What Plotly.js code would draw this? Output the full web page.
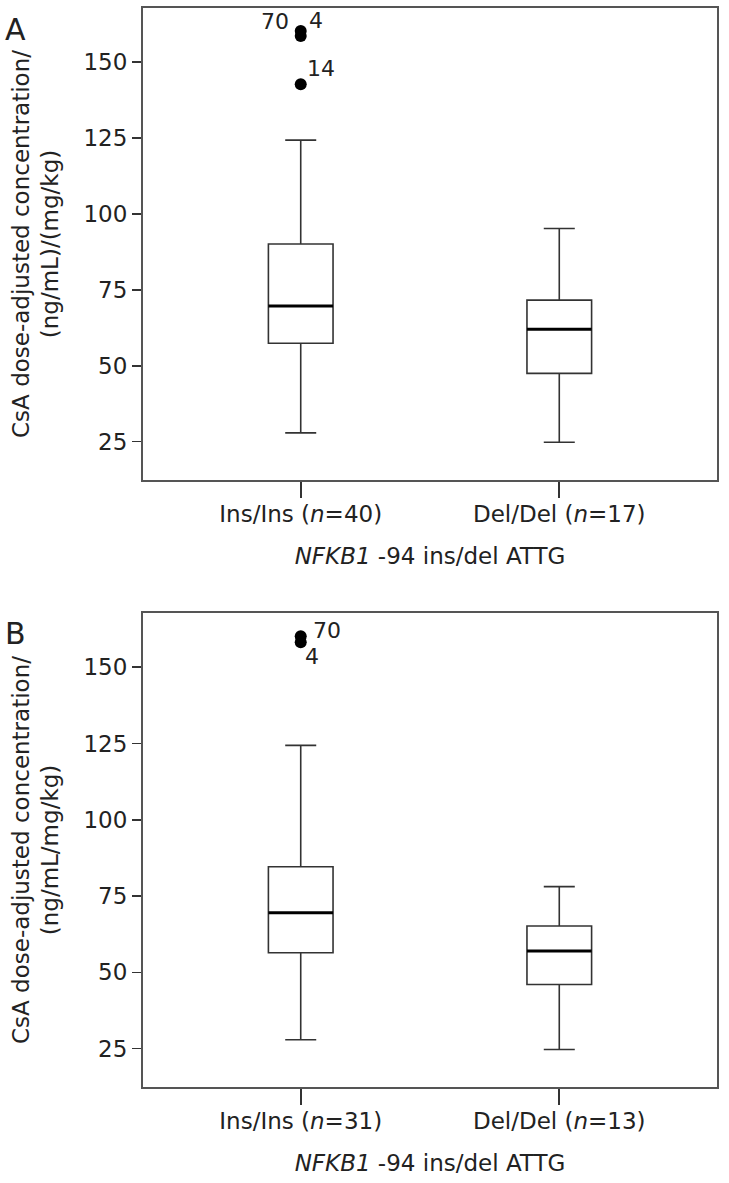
<!DOCTYPE html>
<html>
<head>
<meta charset="utf-8">
<script src="https://cdn.plot.ly/plotly-3.0.1.min.js"></script>
<style>html,body{margin:0;padding:0;background:#fff;}#chart{width:729px;height:1183px;}</style>
</head>
<body>
<div id="chart"></div>
<script>
// ---- data ----
const categories = ['Ins/Ins', 'Del/Del'];
const nA = [40, 17];
const nB = [31, 13];
const yTicks = [25, 50, 75, 100, 125, 150];

// Panel A
const aLower = [27.9, 24.8];
const aQ1 = [57.4, 47.5];
const aMedian = [69.7, 62.0];
const aQ3 = [90.1, 71.6];
const aUpper = [124.3, 95.2];
const aOutGroup = [0, 0, 0];
const aOutValue = [160.2, 158.6, 142.7];
const aOutLabel = ['70', '4', '14'];

// Panel B
const bLower = [27.9, 24.7];
const bQ1 = [56.4, 46.0];
const bMedian = [69.5, 57.0];
const bQ3 = [84.6, 65.2];
const bUpper = [124.4, 78.1];
const bOutGroup = [0, 0];
const bOutValue = [160.2, 158.2];
const bOutLabel = ['70', '4'];

// ---- styles ----
const FONT = 'DejaVu Sans, Liberation Sans, Arial, sans-serif';
const TXT = '#222';
const BOXW = 0.25;
const pos = categories.map((c, i) => i);

function medianLine(med, xa, ya) {
  const xs = [], ys = [];
  med.forEach((m, i) => { xs.push(pos[i] - BOXW / 2, pos[i] + BOXW / 2, null); ys.push(m, m, null); });
  return { type: 'scatter', mode: 'lines', x: xs, y: ys, xaxis: xa, yaxis: ya,
    line: { color: '#000', width: 3 }, hoverinfo: 'skip', showlegend: false };
}
function boxTrace(lo, q1, med, q3, hi, xa, ya) {
  return { type: 'box', x: pos, q1: q1, median: med, q3: q3, lowerfence: lo, upperfence: hi,
    xaxis: xa, yaxis: ya, width: BOXW, whiskerwidth: 0.48, boxpoints: false,
    fillcolor: '#fff', line: { color: '#333', width: 1.6 }, showlegend: false };
}
function outTrace(g, v, xa, ya) {
  return { type: 'scatter', mode: 'markers', x: g.map(i => pos[i]), y: v, cliponaxis: false,
    marker: { color: '#000', size: 12 }, xaxis: xa, yaxis: ya, showlegend: false };
}
// outlier label offsets (px) : style only
const aShift = [[-26, 10], [15, 15], [20, 16]];
const bShift = [[26, 6], [11, -14]];
function outLabels(g, v, labs, shifts, xr, yr) {
  return labs.map((t, i) => ({ text: t, x: pos[g[i]], y: v[i], xref: xr, yref: yr, showarrow: false,
    xshift: shifts[i][0], yshift: shifts[i][1], font: { family: FONT, size: 22, color: TXT } }));
}

const traces = [
  boxTrace(aLower, aQ1, aMedian, aQ3, aUpper, 'x', 'y'),
  medianLine(aMedian, 'x', 'y'),
  outTrace(aOutGroup, aOutValue, 'x', 'y'),
  boxTrace(bLower, bQ1, bMedian, bQ3, bUpper, 'x2', 'y2'),
  medianLine(bMedian, 'x2', 'y2'),
  outTrace(bOutGroup, bOutValue, 'x2', 'y2')
];

const lab = n => categories.map((c, i) => c + ' (<i>n</i>=' + n[i] + ')');
function xAxis(anchor, n) {
  return { anchor: anchor, domain: [0, 1], range: [-0.61, 1.61], tickvals: pos, ticktext: lab(n),
    ticks: 'outside', ticklen: 16, tickwidth: 1.6, tickcolor: '#333', ticklabelstandoff: -4,
    showline: true, mirror: true, linecolor: '#555', linewidth: 2, showgrid: false, zeroline: false,
    tickfont: { family: FONT, size: 23, color: TXT },
    title: { text: '<i>NFKB1</i> -94 ins/del ATTG', font: { family: FONT, size: 23, color: TXT }, standoff: 22 } };
}
function yAxis(anchor, domain, t) {
  return { anchor: anchor, domain: domain, range: [12.4, 167.8], tickvals: yTicks,
    ticks: 'outside', ticklen: 9, tickwidth: 1.6, tickcolor: '#333',
    showline: true, mirror: true, linecolor: '#555', linewidth: 2, showgrid: false, zeroline: false,
    tickfont: { family: FONT, size: 23, color: TXT },
    title: { text: t, font: { family: FONT, size: 23, color: TXT }, standoff: 18 } };
}

const layout = {
  width: 729, height: 1183,
  margin: { l: 143, r: 12, t: 8, b: 96 },
  paper_bgcolor: '#fff', plot_bgcolor: '#fff',
  font: { family: FONT, color: TXT },
  xaxis: xAxis('y', nA),
  yaxis: yAxis('x', [0.5626, 1], 'CsA dose-adjusted concentration/<br>(ng/mL)/(mg/kg)'),
  xaxis2: xAxis('y2', nB),
  yaxis2: yAxis('x2', [0, 0.4393], 'CsA dose-adjusted concentration/<br>(ng/mL/mg/kg)'),
  annotations: [
    { text: 'A', xref: 'paper', yref: 'paper', x: -0.244, y: 0.998, xanchor: 'left', yanchor: 'top',
      showarrow: false, font: { family: FONT, size: 30, color: TXT } },
    { text: 'B', xref: 'paper', yref: 'paper', x: -0.244, y: 0.438, xanchor: 'left', yanchor: 'top',
      showarrow: false, font: { family: FONT, size: 30, color: TXT } }
  ].concat(outLabels(aOutGroup, aOutValue, aOutLabel, aShift, 'x', 'y'))
   .concat(outLabels(bOutGroup, bOutValue, bOutLabel, bShift, 'x2', 'y2'))
};

Plotly.newPlot('chart', traces, layout, { displayModeBar: false, staticPlot: true });
</script>
</body>
</html>
